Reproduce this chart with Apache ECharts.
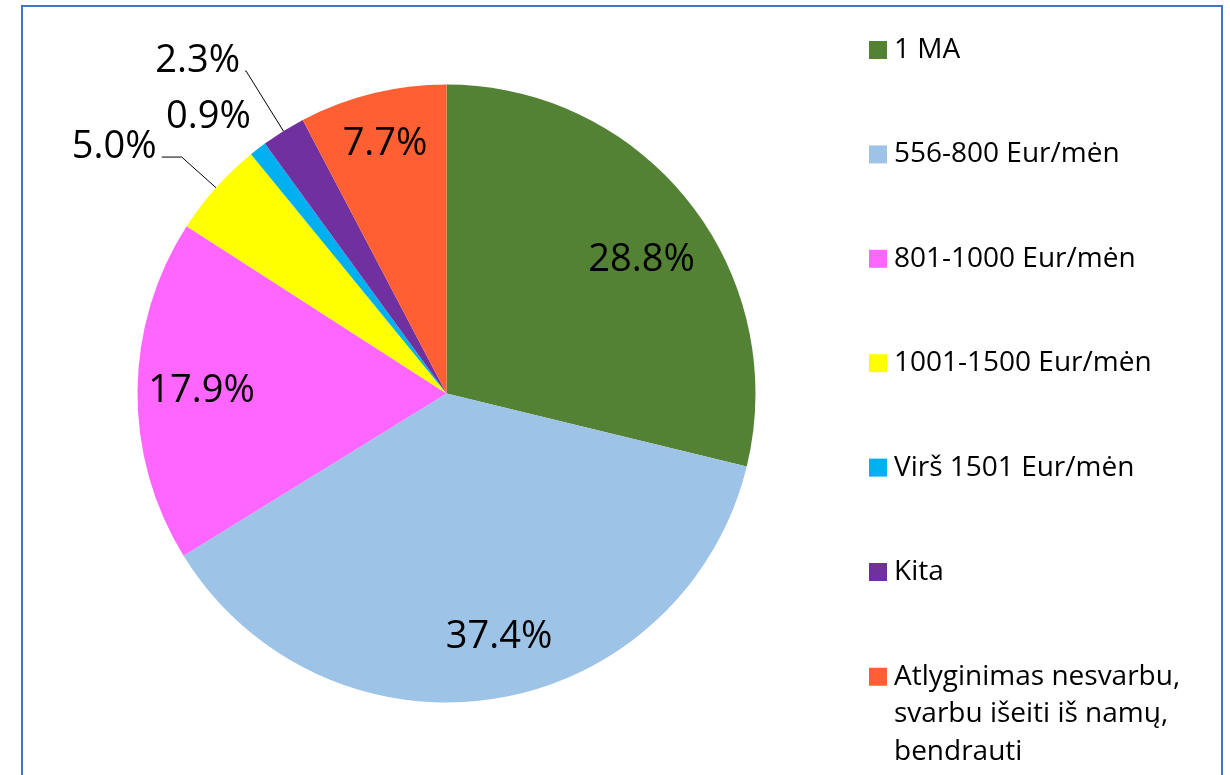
<!DOCTYPE html>
<html>
<head>
<meta charset="utf-8">
<script src="https://cdn.jsdelivr.net/npm/echarts@6/dist/echarts.min.js"></script>
<style>
  html, body { margin: 0; padding: 0; background: #fff; }
  #chart { width: 1230px; height: 775px; }
</style>
</head>
<body>
<div id="chart"></div>
<script>
// ---- data ----
const categories = [
  '1 MA',
  '556-800 Eur/mėn',
  '801-1000 Eur/mėn',
  '1001-1500 Eur/mėn',
  'Virš 1501 Eur/mėn',
  'Kita',
  'Atlyginimas nesvarbu, svarbu išeiti iš namų, bendrauti'
];
const shares = [28.8, 37.4, 17.9, 5.0, 0.9, 2.3, 7.7];

// ---- styles ----
const palette = ['#548235', '#9DC3E6', '#FF66FF', '#FFFF00', '#00B0F0', '#7030A0', '#FF5F33'];
const FONT = '"Open Sans", "Noto Sans", sans-serif';
const CENTER = [446.5, 393.5];
const R = 309;
// inside labels: slice index -> label ring inner radius, downward nudge, rightward nudge
const insideStyle = {
  0: { ring: 181, down: 19.8, right: 0 },
  1: { ring: 179, down: 0, right: 14 },
  2: { ring: 175, down: 0, right: 0 },
  6: { ring: 198, down: 0, right: 0 }
};
// outside labels: slice index -> leader geometry
const outsideStyle = {
  3: { len: 46, len2: 20, lift: true, line: true },
  4: { len: 39.4, len2: -22, lift: false, line: false },
  5: { len: 70.6, len2: 1, lift: true, line: true }
};

const fmt = v => v.toFixed(1) + '%';

const mainData = categories.map((name, i) => {
  const item = { name: name, value: shares[i] };
  const o = outsideStyle[i];
  if (o) {
    const lbl = { show: true, position: 'outside', distanceToLabelLine: 5 };
    if (o.lift) {
      lbl.lineHeight = 19;
      lbl.formatter = p => fmt(p.value) + '\n';
    } else {
      lbl.lineHeight = 30;
    }
    item.label = lbl;
    item.labelLine = {
      show: o.line, length: o.len, length2: o.len2,
      lineStyle: { color: '#000', width: 1 }
    };
  }
  return item;
});

const baseSeries = {
  type: 'pie',
  center: CENTER,
  startAngle: 90,
  clockwise: true,
  avoidLabelOverlap: false,
  labelLayout: { hideOverlap: false },
  silent: true,
  emphasis: { disabled: true },
  labelLine: { show: false }
};

const labelOverlays = Object.keys(insideStyle).map(k => {
  const idx = +k;
  const s = insideStyle[k];
  const label = {
    position: 'inside',
    fontFamily: FONT, fontSize: 38, color: '#000'
  };
  if (s.right) {
    label.formatter = p => '{t|' + fmt(p.value) + '}';
    label.rich = { t: { fontFamily: FONT, fontSize: 38, color: '#000', padding: [0, 0, 0, 2 * s.right] } };
  } else if (s.down) {
    label.lineHeight = 2 * s.down;
    label.formatter = p => '\n' + fmt(p.value);
  } else {
    label.formatter = p => fmt(p.value);
  }
  return Object.assign({}, baseSeries, {
    radius: [s.ring, R],
    legendHoverLink: false,
    itemStyle: { color: 'rgba(0,0,0,0)', borderWidth: 0 },
    label: label,
    data: categories.map((name, i) => ({
      name: name, value: shares[i], label: { show: i === idx }
    }))
  });
});

const chart = echarts.init(document.getElementById('chart'), null, { renderer: 'canvas' });

const option = {
  animation: false,
  backgroundColor: '#fff',
  color: palette,
  textStyle: { fontFamily: FONT },
  graphic: [{
    type: 'rect', silent: true, z: 100,
    shape: { x: 22, y: 6, width: 1200, height: 830 },
    style: { fill: 'none', stroke: '#4472C4', lineWidth: 2 }
  }],
  legend: [{
    orient: 'vertical',
    left: 869, top: 31.5,
    padding: 0,
    itemWidth: 18, itemHeight: 18, itemGap: 67.4,
    icon: 'rect',
    selectedMode: false,
    data: categories.slice(0, 6),
    textStyle: { fontFamily: FONT, fontSize: 28, lineHeight: 37, color: '#000', padding: [0, 0, 0, 2] }
  }, {
    orient: 'vertical',
    left: 869, top: 583,
    padding: 0,
    itemWidth: 18, itemHeight: 18,
    icon: 'rect',
    selectedMode: false,
    data: categories.slice(6),
    formatter: n => '\n\n' + n.replace(/, /g, ',\n'),
    textStyle: { fontFamily: FONT, fontSize: 28, lineHeight: 37.5, color: '#000', padding: [0, 0, 0, 2] }
  }],
  series: [Object.assign({}, baseSeries, {
    radius: [0, R],
    itemStyle: { borderWidth: 0 },
    label: {
      show: false,
      formatter: p => fmt(p.value),
      fontFamily: FONT, fontSize: 38, color: '#000'
    },
    data: mainData
  })].concat(labelOverlays)
};

chart.setOption(option);
</script>
</body>
</html>
